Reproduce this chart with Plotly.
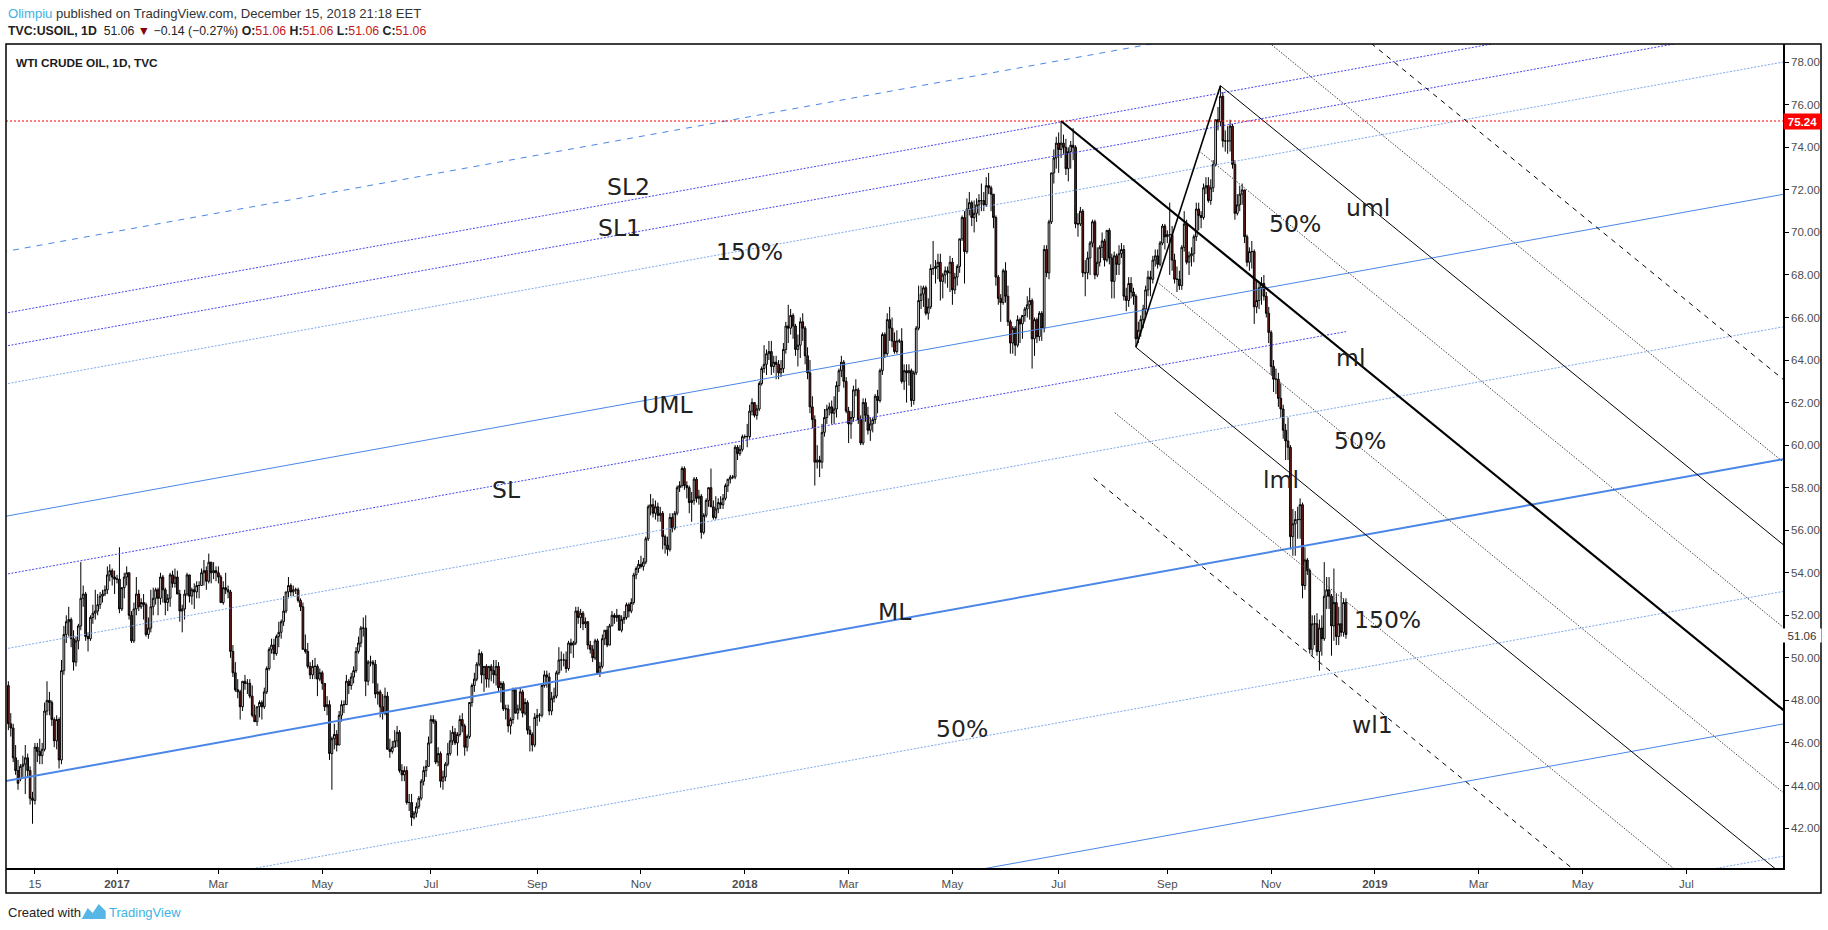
import numpy as np
import plotly.graph_objects as go

# TradingView daily chart: bars are spaced by trading day
START = "2016-10-31"


def bar(d):
    return int(np.busday_count(START, np.datetime64(d, "D")))


# daily candles (open, high, low, close), one list per month
oct16 = [(48.7, 48.9, 46.6, 46.9)]
nov16 = [(46.9, 47.4, 46.3, 46.7), (46.7, 46.9, 45.1, 45.3), (45.3, 45.9, 44.5, 44.7), (44.7, 45.2, 43.8, 44.1),
         (44.3, 45.0, 44.2, 44.9), (44.9, 45.4, 44.4, 45.0), (45.0, 45.9, 43.6, 45.3), (45.3, 45.5, 44.4, 44.7),
         (44.7, 44.9, 43.1, 43.4), (43.4, 43.7, 42.2, 43.3), (43.3, 46.0, 43.1, 45.8), (45.8, 46.0, 45.1, 45.6),
         (45.6, 46.2, 45.0, 45.4), (45.4, 46.0, 45.0, 45.7), (45.7, 47.9, 45.6, 47.5), (47.5, 48.9, 47.3, 48.0),
         (48.0, 48.4, 47.3, 47.9), (47.9, 48.0, 46.8, 47.1), (47.1, 47.2, 45.8, 46.1), (46.1, 47.3, 45.7, 47.1),
         (47.1, 47.2, 44.8, 45.2), (45.2, 49.9, 45.0, 49.4)]
dec16 = [(49.4, 51.5, 49.2, 51.1), (51.1, 52.0, 50.7, 51.7), (51.7, 52.4, 51.0, 51.8), (51.8, 51.9, 50.5, 50.9),
         (50.9, 51.3, 49.4, 49.8), (49.8, 51.0, 49.6, 50.8), (50.8, 51.6, 50.4, 51.5), (51.5, 54.5, 51.3, 52.8),
         (52.8, 53.4, 52.4, 53.0), (53.0, 53.1, 50.8, 51.0), (51.0, 51.2, 50.3, 50.9), (50.9, 52.0, 50.8, 51.9),
         (51.9, 52.5, 51.6, 52.1), (52.1, 53.2, 51.8, 52.2), (52.2, 53.0, 52.0, 52.5), (52.5, 53.1, 52.3, 52.9),
         (52.9, 53.2, 52.6, 53.0), (53.0, 53.4, 52.9, 53.2), (53.2, 54.3, 53.0, 53.9), (53.9, 54.4, 53.6, 54.1),
         (54.1, 54.2, 53.4, 53.8), (53.8, 54.1, 53.0, 53.7)]
jan17 = [(53.7, 53.9, 53.5, 53.7), (53.7, 55.2, 52.1, 52.3), (52.3, 53.3, 52.2, 53.3), (53.3, 54.0, 52.8, 53.8),
         (53.8, 54.3, 53.4, 54.0), (54.0, 54.0, 51.8, 52.0), (52.0, 52.2, 50.7, 50.8), (50.8, 52.6, 50.7, 52.3),
         (52.3, 53.8, 52.0, 53.0), (53.0, 53.2, 52.2, 52.4), (52.4, 52.8, 52.3, 52.6), (52.6, 53.0, 51.8, 52.5),
         (52.5, 52.6, 51.0, 51.1), (51.1, 51.9, 50.9, 51.4), (51.4, 53.2, 51.2, 52.4), (52.4, 53.3, 52.0, 52.8),
         (52.8, 53.3, 52.5, 53.2), (53.2, 53.3, 52.0, 52.8), (52.8, 54.0, 52.5, 53.8), (53.8, 53.9, 52.6, 53.2),
         (53.2, 53.3, 52.0, 52.6), (52.6, 53.0, 52.2, 52.8)]
feb17 = [(52.8, 54.0, 52.4, 53.9), (53.9, 54.1, 53.3, 53.5), (53.5, 54.2, 53.3, 53.8), (53.8, 54.1, 53.0, 53.0),
         (53.0, 53.2, 51.7, 52.2), (52.2, 52.5, 51.2, 52.3), (52.3, 53.2, 51.8, 53.0), (53.0, 54.0, 52.9, 53.9),
         (53.9, 53.9, 52.6, 52.9), (52.9, 53.3, 52.5, 53.2), (53.2, 53.5, 52.3, 53.1), (53.1, 53.6, 52.8, 53.4),
         (53.4, 53.6, 52.8, 53.4), (53.4, 54.2, 53.4, 54.0), (54.0, 54.6, 53.4, 54.1), (54.1, 54.3, 53.2, 53.6),
         (53.6, 54.9, 53.5, 54.5), (54.5, 54.5, 53.5, 54.0), (54.0, 54.5, 53.7, 54.1), (54.1, 54.3, 53.6, 54.0)]
mar17 = [(54.0, 54.3, 53.5, 53.8), (53.8, 53.9, 52.6, 52.6), (52.6, 53.6, 52.5, 53.3), (53.3, 54.0, 53.0, 53.2),
         (53.2, 53.4, 52.8, 53.1), (53.1, 53.2, 50.0, 50.3), (50.3, 50.6, 49.1, 49.3), (49.3, 49.8, 48.4, 48.5),
         (48.5, 49.0, 48.1, 48.4), (48.4, 48.5, 47.1, 47.7), (47.7, 48.9, 47.5, 48.9), (48.9, 49.2, 48.5, 48.8),
         (48.8, 49.0, 48.3, 48.8), (48.8, 49.0, 48.1, 48.2), (48.2, 48.7, 47.2, 47.3), (47.3, 47.8, 47.0, 47.0),
         (47.0, 47.7, 46.8, 47.7), (47.7, 48.0, 47.2, 47.9), (47.9, 48.0, 47.1, 47.7), (47.7, 48.6, 47.6, 48.4),
         (48.4, 49.6, 48.3, 49.5), (49.5, 50.5, 49.4, 50.4), (50.4, 50.9, 50.2, 50.6)]
apr17 = [(50.6, 50.9, 49.9, 50.2), (50.2, 51.1, 50.1, 51.0), (51.0, 51.7, 50.5, 51.2), (51.2, 51.8, 50.9, 51.7),
         (51.7, 52.9, 51.5, 52.2), (52.2, 53.1, 52.1, 53.1), (53.1, 53.8, 52.8, 53.4), (53.4, 53.5, 52.9, 53.1),
         (53.1, 53.4, 52.9, 53.2), (53.2, 53.3, 53.0, 53.2), (53.2, 53.3, 52.6, 52.7), (52.7, 52.8, 52.2, 52.4),
         (52.4, 52.6, 50.4, 50.4), (50.4, 51.1, 50.2, 50.3), (50.3, 50.7, 49.5, 49.6), (49.6, 49.8, 49.0, 49.2),
         (49.2, 49.9, 49.0, 49.6), (49.6, 50.0, 49.0, 49.6), (49.6, 49.7, 48.2, 49.0), (49.0, 49.5, 48.9, 49.3)]
may17 = [(49.3, 49.4, 48.5, 48.8), (48.8, 48.8, 47.5, 47.7), (47.7, 48.2, 47.3, 47.8), (47.8, 48.0, 45.2, 45.5),
         (45.5, 46.3, 43.8, 46.2), (46.2, 46.9, 45.7, 46.4), (46.4, 46.6, 45.6, 45.9), (45.9, 47.5, 45.9, 47.3),
         (47.3, 48.0, 47.0, 47.8), (47.8, 48.0, 47.4, 47.8), (47.8, 49.2, 47.8, 48.9), (48.9, 49.0, 48.3, 48.7),
         (48.7, 49.3, 48.5, 49.1), (49.1, 49.6, 48.8, 49.4), (49.4, 50.5, 49.3, 50.3), (50.3, 51.0, 50.2, 50.7),
         (50.7, 51.5, 50.5, 51.4), (51.4, 51.9, 51.0, 51.4), (51.4, 52.0, 48.2, 48.9), (48.9, 49.9, 48.7, 49.8),
         (49.8, 50.1, 49.6, 49.8), (49.8, 49.9, 48.8, 49.7), (49.7, 49.9, 48.1, 48.3)]
jun17 = [(48.3, 48.8, 47.8, 48.4), (48.4, 48.5, 47.2, 47.7), (47.7, 48.3, 47.1, 47.4), (47.4, 48.6, 47.3, 48.2),
         (48.2, 48.4, 45.7, 45.7), (45.7, 46.2, 45.3, 45.6), (45.6, 46.1, 45.5, 45.8), (45.8, 46.6, 45.8, 46.1),
         (46.1, 46.8, 45.8, 46.5), (46.5, 46.6, 44.6, 44.7), (44.7, 45.0, 44.2, 44.5), (44.5, 44.9, 44.2, 44.7),
         (44.7, 44.9, 43.1, 43.2), (43.2, 43.6, 42.8, 43.2), (43.2, 43.6, 42.1, 42.5), (42.5, 42.8, 42.4, 42.7),
         (42.7, 43.2, 42.5, 43.0), (43.0, 43.5, 42.9, 43.4), (43.4, 44.3, 43.3, 44.2), (44.2, 44.9, 44.0, 44.7),
         (44.7, 45.2, 44.4, 44.9), (44.9, 46.3, 44.9, 46.0)]
jul17 = [(46.0, 47.3, 46.0, 47.1), (47.1, 47.3, 46.9, 47.0), (47.0, 47.1, 45.0, 45.1), (45.1, 45.8, 44.9, 45.5),
         (45.5, 45.6, 43.9, 44.2), (44.2, 44.7, 43.8, 44.4), (44.4, 45.1, 44.2, 45.0), (45.0, 46.0, 44.9, 45.5),
         (45.5, 46.6, 45.4, 46.1), (46.1, 46.8, 45.9, 46.5), (46.5, 46.7, 45.9, 46.0), (46.0, 46.5, 45.4, 46.4),
         (46.4, 47.3, 46.3, 47.1), (47.1, 47.4, 46.5, 46.8), (46.8, 46.9, 45.4, 45.8), (45.8, 46.4, 45.6, 46.3),
         (46.3, 47.9, 46.2, 47.9), (47.9, 48.8, 47.7, 48.7), (48.7, 49.3, 48.4, 49.0), (49.0, 49.8, 48.9, 49.7),
         (49.7, 50.4, 49.6, 50.2)]
aug17 = [(50.2, 50.3, 48.8, 49.2), (49.2, 49.6, 48.4, 49.6), (49.6, 49.7, 48.6, 49.0), (49.0, 49.6, 48.6, 49.6),
         (49.6, 49.7, 48.9, 49.4), (49.4, 49.9, 48.8, 49.2), (49.2, 49.9, 48.7, 49.6), (49.6, 49.8, 48.4, 48.6),
         (48.6, 48.9, 47.9, 48.8), (48.8, 48.9, 47.5, 47.6), (47.6, 47.8, 47.1, 47.6), (47.6, 47.8, 46.5, 46.8),
         (46.8, 47.2, 46.4, 47.1), (47.1, 48.6, 46.9, 48.5), (48.5, 48.6, 47.4, 47.4), (47.4, 47.8, 47.1, 47.6),
         (47.6, 48.6, 47.5, 48.4), (48.4, 48.5, 47.2, 47.4), (47.4, 48.1, 47.3, 47.9), (47.9, 48.0, 46.4, 46.6),
         (46.6, 46.8, 45.6, 46.4), (46.4, 46.5, 45.6, 45.9), (45.9, 47.4, 45.8, 47.2)]
sep17 = [(47.2, 47.6, 46.8, 47.3), (47.3, 47.4, 47.0, 47.3), (47.3, 48.8, 47.2, 48.7), (48.7, 49.4, 48.6, 49.2),
         (49.2, 49.4, 48.6, 49.1), (49.1, 49.3, 47.3, 47.5), (47.5, 48.4, 47.3, 48.1), (48.1, 48.6, 47.9, 48.2),
         (48.2, 49.4, 48.1, 49.3), (49.3, 50.5, 49.2, 49.9), (49.9, 50.3, 49.4, 49.9), (49.9, 50.2, 49.6, 49.9),
         (49.9, 50.3, 49.3, 49.5), (49.5, 50.8, 49.4, 50.7), (50.7, 50.9, 50.2, 50.6), (50.6, 50.8, 50.0, 50.7),
         (50.7, 52.4, 50.6, 52.2), (52.2, 52.4, 51.6, 51.9), (51.9, 52.3, 51.4, 52.1), (52.1, 52.2, 51.3, 51.6),
         (51.6, 51.9, 51.4, 51.7)]
oct17 = [(51.7, 51.7, 50.4, 50.6), (50.6, 50.8, 50.2, 50.4), (50.4, 50.6, 49.8, 50.0), (50.0, 50.9, 49.9, 50.8),
         (50.8, 50.9, 49.2, 49.3), (49.3, 49.8, 49.1, 49.6), (49.6, 51.1, 49.5, 50.9), (50.9, 51.3, 50.6, 51.3),
         (51.3, 51.5, 50.5, 50.6), (50.6, 51.6, 50.6, 51.5), (51.5, 52.2, 51.5, 52.0), (52.0, 52.1, 51.6, 51.9),
         (51.9, 52.3, 51.7, 52.0), (52.0, 52.0, 51.3, 51.3), (51.3, 52.0, 51.2, 51.8), (51.8, 52.2, 51.6, 51.9),
         (51.9, 52.6, 51.8, 52.5), (52.5, 52.6, 51.9, 52.2), (52.2, 52.8, 52.1, 52.6), (52.6, 54.0, 52.5, 53.9),
         (53.9, 54.3, 53.7, 54.2), (54.2, 54.6, 54.0, 54.4)]
nov17 = [(54.4, 54.8, 54.2, 54.3), (54.3, 54.7, 54.1, 54.5), (54.5, 55.7, 54.4, 55.6), (55.6, 57.2, 55.5, 57.1),
         (57.1, 57.7, 56.7, 57.2), (57.2, 57.5, 56.6, 56.8), (56.8, 57.4, 56.5, 57.1), (57.1, 57.3, 56.4, 56.7),
         (56.7, 57.1, 56.4, 56.8), (56.8, 56.9, 55.1, 55.7), (55.7, 55.8, 54.9, 55.3), (55.3, 55.7, 54.8, 55.1),
         (55.1, 56.8, 55.0, 56.6), (56.6, 56.8, 55.9, 56.1), (56.1, 56.9, 56.0, 56.8), (56.8, 58.1, 56.7, 58.0),
         (58.0, 58.3, 57.8, 58.1), (58.1, 59.0, 58.0, 58.9), (58.9, 59.0, 57.9, 58.1), (58.1, 58.3, 57.5, 58.0),
         (58.0, 58.1, 56.8, 57.3), (57.3, 57.8, 56.4, 57.4)]
dec17 = [(57.4, 58.5, 57.2, 58.4), (58.4, 58.5, 57.3, 57.5), (57.5, 57.9, 57.2, 57.6), (57.6, 57.7, 55.6, 55.9),
         (55.9, 56.8, 55.8, 56.7), (56.7, 57.5, 56.6, 57.4), (57.4, 58.0, 57.1, 58.0), (58.0, 58.9, 57.1, 57.1),
         (57.1, 57.4, 56.5, 56.6), (56.6, 57.6, 56.5, 57.0), (57.0, 57.5, 56.8, 57.3), (57.3, 57.6, 57.0, 57.2),
         (57.2, 57.7, 57.0, 57.5), (57.5, 58.2, 57.4, 58.1), (58.1, 58.4, 57.8, 58.4), (58.4, 58.6, 58.2, 58.5),
         (58.5, 58.6, 58.4, 58.5), (58.5, 60.0, 58.4, 59.9), (59.9, 60.0, 59.3, 59.6), (59.6, 60.0, 59.5, 59.8),
         (59.8, 60.5, 59.7, 60.4)]
jan18 = [(60.4, 60.5, 60.3, 60.4), (60.4, 61.0, 59.9, 60.4), (60.4, 61.9, 60.3, 61.6), (61.6, 62.2, 61.4, 62.0),
         (62.0, 62.0, 61.3, 61.4), (61.4, 61.9, 61.2, 61.7), (61.7, 63.0, 61.6, 62.9), (62.9, 63.7, 62.8, 63.6),
         (63.6, 64.7, 63.4, 63.8), (63.8, 64.5, 63.3, 64.3), (64.3, 64.9, 64.0, 64.4), (64.4, 64.9, 63.3, 63.7),
         (63.7, 64.2, 63.4, 63.9), (63.9, 64.2, 63.1, 63.8), (63.8, 64.0, 63.1, 63.4), (63.4, 64.0, 63.2, 63.6),
         (63.6, 64.8, 63.4, 64.5), (64.5, 65.8, 64.3, 65.6), (65.6, 66.6, 64.8, 65.5), (65.5, 66.4, 65.2, 66.1),
         (66.1, 66.2, 65.0, 65.6), (65.6, 65.7, 64.2, 64.5), (64.5, 65.2, 63.7, 64.7)]
feb18 = [(64.7, 66.0, 64.1, 65.8), (65.8, 66.2, 64.9, 65.5), (65.5, 65.6, 63.8, 64.2), (64.2, 64.6, 63.1, 63.4),
         (63.4, 64.0, 61.5, 61.8), (61.8, 62.3, 60.8, 61.2), (61.2, 61.4, 58.1, 59.2), (59.2, 60.0, 58.9, 59.3),
         (59.3, 59.5, 58.5, 59.2), (59.2, 61.0, 58.9, 60.6), (60.6, 61.7, 60.4, 61.3), (61.3, 61.9, 61.0, 61.7),
         (61.7, 62.0, 61.4, 61.8), (61.8, 62.1, 61.0, 61.5), (61.5, 62.3, 61.0, 61.7), (61.7, 63.0, 61.3, 62.8),
         (62.8, 63.6, 62.5, 63.5), (63.5, 64.2, 63.2, 63.9), (63.9, 64.0, 62.7, 63.0), (63.0, 63.2, 61.5, 61.6)]
mar18 = [(61.6, 61.8, 60.1, 61.0), (61.0, 61.6, 60.3, 61.3), (61.3, 62.8, 61.1, 62.6), (62.6, 63.1, 62.3, 62.6),
         (62.6, 62.7, 61.0, 61.2), (61.2, 61.4, 60.0, 60.1), (60.1, 62.2, 60.0, 62.0), (62.0, 62.2, 61.1, 61.4),
         (61.4, 61.8, 60.5, 60.7), (60.7, 61.3, 60.2, 61.0), (61.0, 61.3, 60.6, 61.2), (61.2, 62.4, 61.0, 62.3),
         (62.3, 62.6, 61.5, 62.1), (62.1, 63.6, 62.0, 63.5), (63.5, 65.3, 63.3, 65.2), (65.2, 65.3, 64.1, 64.3),
         (64.3, 66.2, 64.2, 65.9), (65.9, 66.5, 64.9, 65.5), (65.5, 66.0, 64.6, 64.9), (64.9, 65.3, 64.3, 64.4),
         (64.4, 65.4, 64.3, 64.9), (64.9, 65.0, 64.8, 64.9)]
apr18 = [(64.9, 65.5, 62.9, 63.0), (63.0, 63.8, 62.6, 63.5), (63.5, 63.8, 62.0, 63.4), (63.4, 63.8, 62.8, 63.5),
         (63.5, 63.6, 61.8, 62.1), (62.1, 63.5, 61.9, 63.4), (63.4, 65.6, 63.3, 65.5), (65.5, 67.5, 65.4, 66.8),
         (66.8, 67.5, 66.4, 67.1), (67.1, 67.5, 66.5, 67.4), (67.4, 67.5, 66.1, 66.2), (66.2, 66.9, 65.9, 66.5),
         (66.5, 68.5, 66.4, 68.3), (68.3, 69.6, 68.0, 68.3), (68.3, 68.7, 67.6, 68.4), (68.4, 69.0, 67.8, 68.6),
         (68.6, 69.0, 66.8, 67.7), (67.7, 68.1, 66.9, 68.0), (68.0, 68.4, 67.6, 68.2), (68.2, 68.4, 67.4, 68.1),
         (68.1, 68.9, 67.2, 68.6)]
may18 = [(68.6, 68.8, 66.6, 67.3), (67.3, 68.1, 67.1, 67.9), (67.9, 68.5, 67.5, 68.4), (68.4, 69.7, 68.1, 69.7),
         (69.7, 70.8, 69.6, 70.7), (70.7, 71.0, 67.6, 69.1), (69.1, 71.6, 69.0, 71.1), (71.1, 71.9, 70.8, 71.4),
         (71.4, 71.5, 70.3, 70.7), (70.7, 71.5, 70.0, 70.9), (70.9, 71.6, 70.5, 71.3), (71.3, 71.8, 70.8, 71.5),
         (71.5, 72.3, 71.0, 71.5), (71.5, 71.9, 71.0, 71.3), (71.3, 72.6, 71.2, 72.2), (72.2, 72.8, 71.8, 72.1),
         (72.1, 72.2, 71.0, 71.8), (71.8, 71.8, 70.2, 70.7), (70.7, 70.8, 67.5, 67.9), (67.9, 68.0, 66.6, 66.9),
         (66.9, 67.1, 65.8, 66.7), (66.7, 68.3, 66.6, 68.2), (68.2, 68.6, 66.7, 67.0)]
jun18 = [(67.0, 67.5, 65.6, 65.8), (65.8, 65.9, 64.3, 64.8), (64.8, 65.6, 64.3, 65.5), (65.5, 65.6, 64.2, 64.7),
         (64.7, 66.1, 64.6, 65.9), (65.9, 66.0, 64.8, 65.7), (65.7, 66.1, 65.0, 66.1), (66.1, 66.5, 65.8, 66.4),
         (66.4, 67.0, 66.0, 66.6), (66.6, 67.4, 65.9, 66.8), (66.8, 66.9, 63.6, 65.0), (65.0, 66.0, 64.2, 65.9),
         (65.9, 66.0, 64.8, 65.1), (65.1, 66.3, 64.9, 66.2), (66.2, 66.3, 64.9, 65.5), (65.5, 69.4, 65.3, 69.2),
         (69.2, 69.4, 67.9, 68.1), (68.1, 70.6, 67.8, 70.5), (70.5, 72.8, 70.4, 72.8), (72.8, 73.9, 72.3, 73.5),
         (73.5, 74.5, 73.0, 74.2)]
jul18 = [(74.2, 74.7, 72.8, 73.9), (73.9, 75.24, 73.5, 74.2), (74.2, 74.6, 73.7, 74.0), (74.0, 74.4, 72.7, 73.0),
         (73.0, 74.0, 72.4, 73.8), (73.8, 74.3, 73.0, 74.1), (74.1, 74.9, 73.4, 74.0), (74.0, 74.1, 70.2, 70.4),
         (70.4, 70.9, 69.8, 70.4), (70.4, 71.2, 70.3, 71.0), (71.0, 71.1, 67.9, 68.1), (68.1, 68.7, 67.0, 68.1),
         (68.1, 69.1, 67.8, 68.8), (68.8, 69.6, 68.0, 69.5), (69.5, 70.6, 69.3, 70.5), (70.5, 70.6, 67.8, 68.0),
         (68.0, 69.3, 67.9, 68.6), (68.6, 69.4, 68.4, 69.3), (69.3, 70.0, 68.8, 69.6), (69.6, 69.7, 68.4, 68.7),
         (68.7, 70.1, 68.6, 70.1), (70.1, 70.2, 68.5, 68.8)]
aug18 = [(68.8, 69.0, 66.9, 67.7), (67.7, 69.1, 66.9, 68.9), (68.9, 69.0, 68.0, 68.5), (68.5, 69.4, 68.0, 69.0),
         (69.0, 69.5, 68.8, 69.2), (69.2, 69.4, 66.8, 67.0), (67.0, 67.4, 66.3, 66.8), (66.8, 67.9, 66.5, 67.6),
         (67.6, 67.9, 66.9, 67.2), (67.2, 67.4, 66.6, 67.0), (67.0, 67.1, 64.6, 65.0), (65.0, 65.8, 64.8, 65.4),
         (65.4, 66.1, 65.1, 65.9), (65.9, 66.6, 65.5, 66.4), (66.4, 67.5, 66.1, 67.3), (67.3, 68.2, 67.0, 67.9),
         (67.9, 68.2, 67.0, 67.8), (67.8, 68.9, 67.6, 68.7), (68.7, 69.2, 68.4, 68.9), (68.9, 69.2, 68.3, 68.5),
         (68.5, 69.6, 68.4, 69.5), (69.5, 70.4, 69.4, 70.3), (70.3, 70.4, 69.2, 69.8)]
sep18 = [(69.8, 70.1, 69.5, 69.9), (69.9, 71.4, 68.0, 69.9), (69.9, 70.3, 68.2, 68.7), (68.7, 69.0, 67.6, 67.8),
         (67.8, 68.4, 67.2, 67.8), (67.8, 68.2, 67.3, 67.5), (67.5, 69.4, 67.3, 69.3), (69.3, 71.0, 69.1, 70.4),
         (70.4, 70.6, 68.5, 68.6), (68.6, 69.1, 68.0, 68.9), (68.9, 69.3, 68.4, 69.0), (69.0, 69.9, 68.6, 69.8),
         (69.8, 71.4, 69.6, 71.1), (71.1, 71.4, 70.1, 70.8), (70.8, 71.0, 70.2, 70.7), (70.7, 72.3, 70.6, 72.1),
         (72.1, 72.6, 71.8, 72.2), (72.2, 72.6, 71.4, 71.5), (71.5, 72.5, 71.3, 72.1), (72.1, 73.4, 71.9, 73.2)]
oct18 = [(73.2, 75.3, 73.1, 75.3), (75.3, 75.9, 74.8, 75.2), (75.2, 76.9, 75.0, 76.4), (76.4, 76.6, 74.0, 74.3),
         (74.3, 74.8, 73.8, 74.3), (74.3, 75.0, 73.7, 74.3), (74.3, 75.3, 73.8, 75.0), (75.0, 75.1, 73.0, 73.2),
         (73.2, 73.4, 70.6, 70.9), (70.9, 71.8, 70.8, 71.3), (71.3, 72.2, 71.0, 71.8), (71.8, 72.3, 71.3, 72.0),
         (72.0, 72.0, 69.5, 69.8), (69.8, 69.9, 68.4, 68.6), (68.6, 69.3, 68.2, 69.1), (69.1, 69.6, 68.3, 69.1),
         (69.1, 69.2, 65.7, 66.5), (66.5, 67.7, 66.2, 66.8), (66.8, 67.6, 66.4, 67.4), (67.4, 67.9, 66.6, 67.6),
         (67.6, 68.0, 66.8, 67.0), (67.0, 67.2, 66.0, 66.2), (66.2, 66.5, 64.8, 65.3)]
nov18 = [(65.3, 65.4, 63.3, 63.7), (63.7, 64.0, 62.5, 63.1), (63.1, 63.6, 62.4, 63.1), (63.1, 63.4, 61.8, 62.2),
         (62.2, 62.9, 61.3, 61.7), (61.7, 61.9, 60.3, 60.7), (60.7, 61.0, 59.3, 60.2), (60.2, 61.3, 59.3, 59.9),
         (59.9, 60.0, 55.1, 55.7), (55.7, 57.0, 54.8, 56.3), (56.3, 56.9, 54.8, 56.5), (56.5, 57.1, 55.6, 56.5),
         (56.5, 57.5, 55.6, 57.2), (57.2, 57.3, 52.8, 53.4), (53.4, 55.2, 53.2, 54.6), (54.6, 54.7, 53.9, 54.1),
         (54.1, 54.2, 50.2, 50.4), (50.4, 52.0, 50.1, 51.6), (51.6, 52.0, 50.6, 51.6), (51.6, 52.1, 50.1, 50.3),
         (50.3, 51.8, 49.4, 51.4), (51.4, 52.0, 50.1, 50.9)]
dec18 = [(50.9, 54.5, 50.8, 52.9), (52.9, 53.8, 52.3, 53.2), (53.2, 53.8, 52.3, 52.9), (52.9, 53.0, 50.1, 51.5),
         (51.5, 54.2, 50.8, 52.6), (52.6, 53.0, 50.6, 51.0), (51.0, 52.4, 50.6, 51.6), (51.6, 53.1, 51.0, 51.2),
         (51.2, 52.8, 51.0, 52.6), (52.6, 52.8, 50.9, 51.1)]

month_starts = ["2016-10-31", "2016-11-01", "2016-12-01", "2017-01-01", "2017-02-01", "2017-03-01",
                "2017-04-01", "2017-05-01", "2017-06-01", "2017-07-01", "2017-08-01", "2017-09-01",
                "2017-10-01", "2017-11-01", "2017-12-01", "2018-01-01", "2018-02-01", "2018-03-01",
                "2018-04-01", "2018-05-01", "2018-06-01", "2018-07-01", "2018-08-01", "2018-09-01",
                "2018-10-01", "2018-11-01", "2018-12-01"]
month_bars = [oct16, nov16, dec16, jan17, feb17, mar17, apr17, may17, jun17, jul17, aug17, sep17,
              oct17, nov17, dec17, jan18, feb18, mar18, apr18, may18, jun18, jul18, aug18, sep18,
              oct18, nov18, dec18]

# time axis labels
tick_dates = ["2016-11-15", "2017-01-01", "2017-03-01", "2017-05-01", "2017-07-01", "2017-09-01",
              "2017-11-01", "2018-01-01", "2018-03-01", "2018-05-01", "2018-07-01", "2018-09-01",
              "2018-11-01", "2019-01-01", "2019-03-01", "2019-05-01", "2019-07-01"]
tick_text = ["15", "<b>2017</b>", "Mar", "May", "Jul", "Sep", "Nov", "<b>2018</b>", "Mar", "May", "Jul",
             "Sep", "Nov", "<b>2019</b>", "Mar", "May", "Jul"]
price_ticks = [42, 44, 46, 48, 50, 52, 54, 56, 58, 60, 62, 64, 66, 68, 70, 72, 74, 76, 78]

# first pitchfork (blue): median line anchors and parallel offsets
ml_dates = ["2016-10-31", "2019-08-23"]
ml_prices = [44.23, 59.32]
fork1_offsets = [0.0, 12.45, -12.45, 6.22, -6.22, 18.67, -18.67, 9.72, 20.45, 22.0, 24.9]
sl_end = "2018-12-14"

# second pitchfork (black): A, B, C pivots
fork2_dates = ["2018-07-03", "2018-08-15", "2018-10-03"]
fork2_prices = [75.24, 64.6, 76.9]
fork2_levels = [0.5, 1.0, 1.5, 2.0]

hline_price = 75.24
last_price = 51.06

labels = [("SL2", "2017-10-25", 72.16), ("SL1", "2017-10-19", 70.19), ("150%", "2018-01-03", 69.09),
          ("UML", "2017-11-16", 61.91), ("SL", "2017-08-15", 57.91), ("ML", "2018-03-28", 52.16),
          ("50%", "2018-05-07", 46.67), ("50%", "2018-11-15", 70.41), ("uml", "2018-12-27", 71.17),
          ("ml", "2018-12-18", 64.10), ("50%", "2018-12-24", 60.21), ("lml", "2018-11-07", 58.35),
          ("150%", "2019-01-08", 51.77), ("wl1", "2018-12-31", 46.84)]

# ---------------------------------------------------------------------------
W, H = 1828, 930
L, R, T, B = 6.3, 1783, 44, 868
X_RANGE = [-0.98, 735.0]
Y_RANGE = [40.12, 78.86]


def paper(px, py):
    return (px - L) / (R - L), (B - py) / (B - T)


xs, op, hi, lo, cl = [], [], [], [], []
for first, rows in zip(month_starts, month_bars):
    k0 = bar(first)
    for k, (o_, h_, l_, c_) in enumerate(rows):
        xs.append(k0 + k)
        op.append(o_)
        hi.append(h_)
        lo.append(l_)
        cl.append(c_)

fig = go.Figure()
fig.add_trace(go.Candlestick(
    x=xs, open=op, high=hi, low=lo, close=cl,
    increasing=dict(line=dict(color="black", width=1), fillcolor="white"),
    decreasing=dict(line=dict(color="black", width=1), fillcolor="#7a1f18"),
    whiskerwidth=0, hoverinfo="skip", showlegend=False))


def seg(x0, y0, x1, y1, color, width, dash):
    fig.add_trace(go.Scatter(x=[x0, x1], y=[y0, y1], mode="lines",
                             line=dict(color=color, width=width, dash=dash),
                             hoverinfo="skip", showlegend=False))


# blue pitchfork family
blue = "#4a86e8"
light = "#7ea8ee"
purple = "#4646f2"
dotted = "2px,1.5px"
styles1 = [(blue, 2, "solid"), (blue, 1, "solid"), (blue, 1, "solid"),
           (light, 1, dotted), (light, 1, dotted), (light, 1, dotted), (light, 1, dotted),
           (purple, 1, dotted), (purple, 1, dotted), (purple, 1, dotted), (blue, 1, "6px,6px")]
i0, i1 = bar(ml_dates[0]), bar(ml_dates[1])
slope1 = (ml_prices[1] - ml_prices[0]) / (i1 - i0)
for off, (col, w, d) in zip(fork1_offsets, styles1):
    xa, xb = X_RANGE[0] - 2, X_RANGE[1] + 2
    if off == fork1_offsets[7]:
        xb = bar(sl_end)
    seg(xa, ml_prices[0] + off + slope1 * (xa - i0), xb, ml_prices[0] + off + slope1 * (xb - i0), col, w, d)

# black Andrews pitchfork
ia, ib, ic = [bar(d) for d in fork2_dates]
pa, pb, pc = fork2_prices
im, pm = (ib + ic) / 2, (pb + pc) / 2
slope2 = (pm - pa) / (im - ia)
xe = X_RANGE[1] + 5
seg(ia, pa, xe, pa + slope2 * (xe - ia), "black", 2.2, "solid")
seg(ib, pb, ic, pc, "black", 1.6, "solid")
lvl_style = {0.5: ("#444444", 1, "1.5px,1.5px"), 1.0: ("black", 1, "solid"),
             1.5: ("#444444", 1, "1.5px,1.5px"), 2.0: ("black", 1, "5px,5px")}
for lv in fork2_levels:
    for sgn in (1, -1):
        t = sgn * lv
        sx, sy = im + t * (ic - im), pm + t * (pc - pm)
        col, w, d = lvl_style[lv]
        seg(sx, sy, xe, sy + slope2 * (xe - sx), col, w, d)

shapes = [
    dict(type="line", xref="paper", x0=0, x1=1, yref="y", y0=hline_price, y1=hline_price,
         line=dict(color="#ff0000", width=1, dash="2px,2px")),
    dict(type="rect", xref="paper", yref="paper", x0=0, y0=paper(0, 893)[1], x1=paper(1821, 0)[0], y1=1,
         line=dict(color="black", width=1.5)),
]
# small logo for footer
lx = [paper(v, 0)[0] for v in (82, 88, 93, 99, 106, 106, 82)]
ly = [paper(0, v)[1] for v in (919, 908, 913, 904, 911, 919, 919)]
path = "M " + " L ".join(f"{a},{b}" for a, b in zip(lx, ly)) + " Z"
shapes.append(dict(type="path", xref="paper", yref="paper", path=path,
                   fillcolor="#56b7e6", line=dict(width=0)))

ann = []
for txt, d, p in labels:
    ann.append(dict(x=bar(d), y=p, xref="x", yref="y", text=txt, showarrow=False,
                    font=dict(family="DejaVu Sans", size=23.5, color="#222222"),
                    xanchor="center", yanchor="middle"))

hx, hy = paper(6, 14)
ann.append(dict(x=hx, y=hy, xref="paper", yref="paper", xanchor="left", yanchor="middle", showarrow=False,
                text="<span style='color:#3bb3e4'>Olimpiu</span> published on TradingView.com, "
                     "December 15, 2018 21:18 EET",
                font=dict(family="Liberation Sans", size=13.1, color="#333333")))
red = "#c0191c"
hx, hy = paper(6, 31)
ann.append(dict(x=hx, y=hy, xref="paper", yref="paper", xanchor="left", yanchor="middle", showarrow=False,
                text=f"<b>TVC:USOIL, 1D</b>  51.06 <span style='color:#8b0000'>▼</span> −0.14 (−0.27%) "
                     f"<b>O:</b><span style='color:{red}'>51.06</span> <b>H:</b><span style='color:{red}'>51.06</span> "
                     f"<b>L:</b><span style='color:{red}'>51.06</span> <b>C:</b><span style='color:{red}'>51.06</span>",
                font=dict(family="Liberation Sans", size=12.3, color="#222222")))
hx, hy = paper(14, 63)
ann.append(dict(x=hx, y=hy, xref="paper", yref="paper", xanchor="left", yanchor="middle", showarrow=False,
                text="<b>WTI CRUDE OIL, 1D, TVC</b>",
                font=dict(family="Liberation Sans", size=11.8, color="#1a1a1a")))
hx, hy = paper(6, 912)
ann.append(dict(x=hx, y=hy, xref="paper", yref="paper", xanchor="left", yanchor="middle", showarrow=False,
                text="Created with", font=dict(family="Liberation Sans", size=13, color="#222222")))
hx, hy = paper(107, 912)
ann.append(dict(x=hx, y=hy, xref="paper", yref="paper", xanchor="left", yanchor="middle", showarrow=False,
                text="TradingView", font=dict(family="Liberation Sans", size=13, color="#3bb3e4")))

# price labels on the axis
ann.append(dict(x=1, y=hline_price, xref="paper", yref="y", xanchor="left", yanchor="middle", showarrow=False,
                text="<b>75.24</b>", bgcolor="#ff0000", width=37, height=15, borderpad=0,
                font=dict(family="Liberation Sans", size=11.5, color="white")))
ann.append(dict(x=1, y=last_price, xref="paper", yref="y", xanchor="left", yanchor="middle", showarrow=False,
                xshift=-1, text="51.06", bgcolor="white", width=38, height=13, borderpad=0,
                font=dict(family="Liberation Sans", size=11.5, color="#333333")))

fig.update_layout(
    width=W, height=H, autosize=False,
    margin=dict(l=L, r=W - R, t=T, b=H - B, pad=0),
    paper_bgcolor="white", plot_bgcolor="white",
    showlegend=False, hovermode=False, boxgap=0,
    shapes=shapes, annotations=ann,
    xaxis=dict(range=X_RANGE, showgrid=False, zeroline=False, rangeslider=dict(visible=False),
               tickvals=[bar(d) for d in tick_dates], ticktext=tick_text,
               ticks="outside", ticklen=4, tickcolor="black", showline=True, linecolor="black", linewidth=1.5,
               tickfont=dict(family="Liberation Sans", size=11.5, color="#4d4d4d")),
    yaxis=dict(range=Y_RANGE, side="right", showgrid=False, zeroline=False,
               tickvals=price_ticks, tickformat=".2f",
               ticks="outside", ticklen=4, tickcolor="black", showline=True, linecolor="black", linewidth=1.5,
               tickfont=dict(family="Liberation Sans", size=11.5, color="#4d4d4d")),
)

fig.write_html("out.html", config={"displayModeBar": False},
               post_script="document.body.style.margin='0';")
